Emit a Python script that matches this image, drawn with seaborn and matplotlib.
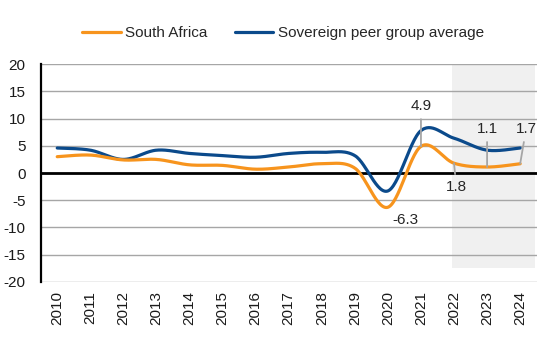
import numpy as np
import pandas as pd
import matplotlib
matplotlib.use("Agg")
import matplotlib.pyplot as plt
import seaborn as sns

years = ["2010", "2011", "2012", "2013", "2014", "2015", "2016", "2017",
         "2018", "2019", "2020", "2021", "2022", "2023", "2024"]
south_africa = [3.0, 3.3, 2.4, 2.5, 1.5, 1.4, 0.7, 1.1, 1.7, 0.9, -6.3, 4.9, 1.8, 1.1, 1.7]
peer_average = [4.6, 4.2, 2.5, 4.2, 3.6, 3.2, 2.9, 3.6, 3.8, 3.2, -3.3, 7.8, 6.4, 4.2, 4.6]
y_ticks = [-20, -15, -10, -5, 0, 5, 10, 15, 20]

sns.set_theme(style="white")
plt.rcParams["font.family"] = ["Liberation Sans", "DejaVu Sans"]

ORANGE = "#F7941D"
BLUE = "#0B4A8B"
GRID = "#A6A6A6"


def smooth(vals, n=30):
    """Catmull-Rom style bezier smoothing through the data points (like Excel smoothed lines)."""
    p = np.column_stack([np.arange(len(vals), dtype=float), np.asarray(vals, float)])
    ext = np.vstack([p[0], p, p[-1]])
    xs, ys = [], []
    for i in range(len(p) - 1):
        p0, p1, p2, p3 = ext[i], ext[i + 1], ext[i + 2], ext[i + 3]
        c1 = p1 + (p2 - p0) / 6.0
        c2 = p2 - (p3 - p1) / 6.0
        t = np.linspace(0, 1, n, endpoint=(i == len(p) - 2))[:, None]
        b = ((1 - t) ** 3) * p1 + 3 * ((1 - t) ** 2) * t * c1 + 3 * (1 - t) * t ** 2 * c2 + t ** 3 * p2
        xs.append(b[:, 0])
        ys.append(b[:, 1])
    return np.concatenate(xs), np.concatenate(ys)


fig = plt.figure(figsize=(5.5, 3.45), dpi=100)
ax = fig.add_axes([0.074, 0.1835, 0.9018, 0.6301])

# shaded forecast band
ax.fill_between([11.95, 14.45], -17.5, 20, color="#F0F0F0", zorder=0, linewidth=0)

for v in y_ticks:
    if v != 0:
        ax.axhline(v, color=GRID, lw=1.0, zorder=1)
ax.axhline(0, color="black", lw=2.0, zorder=2)

sx, sy = smooth(south_africa)
bx, by = smooth(peer_average)
sns.lineplot(x=sx, y=sy, ax=ax, color=ORANGE, lw=2.3, sort=False, label="South Africa",
             zorder=4, legend=False)
sns.lineplot(x=bx, y=by, ax=ax, color=BLUE, lw=2.3, sort=False,
             label="Sovereign peer group average", zorder=3, legend=False)

ax.set_xlim(-0.5, 14.5)
ax.set_ylim(-20, 20)
ax.set_yticks(y_ticks)
ax.set_yticklabels([str(v) for v in y_ticks], fontsize=11, color="#1a1a1a")
ax.set_xticks(range(len(years)))
ax.set_xticklabels(years, rotation=90, fontsize=11, color="#1a1a1a")
ax.tick_params(axis="y", length=0, pad=11)
ax.tick_params(axis="x", length=0, pad=7)

for s in ["top", "right", "bottom"]:
    ax.spines[s].set_visible(False)
ax.spines["left"].set_color("black")
ax.spines["left"].set_linewidth(1.6)

# data labels with leader lines
labels = [
    (11, south_africa[11], 11.0, 12.3),
    (12, south_africa[12], 12.07, -2.6),
    (13, south_africa[13], 13.0, 8.1),
    (14, south_africa[14], 14.18, 8.1),
]
for xi, yv, tx, ty in labels:
    ax.annotate(f"{yv:.1f}", xy=(xi, yv), xytext=(tx, ty), ha="center", va="center",
                fontsize=11, color="#262626", zorder=5,
                arrowprops=dict(arrowstyle="-", color=GRID, lw=1.3, shrinkA=2, shrinkB=0))
ax.text(10.52, -8.65, f"{south_africa[10]:.1f}", ha="center", va="center",
        fontsize=11, color="#262626", zorder=5)

handles, lbls = ax.get_legend_handles_labels()
fig.legend(handles, lbls, loc="center", bbox_to_anchor=(0.515, 0.904), ncol=2,
           frameon=False, fontsize=11, handlelength=2.5, handletextpad=0.3,
           columnspacing=1.8)

fig.savefig("out.png", dpi=100)
